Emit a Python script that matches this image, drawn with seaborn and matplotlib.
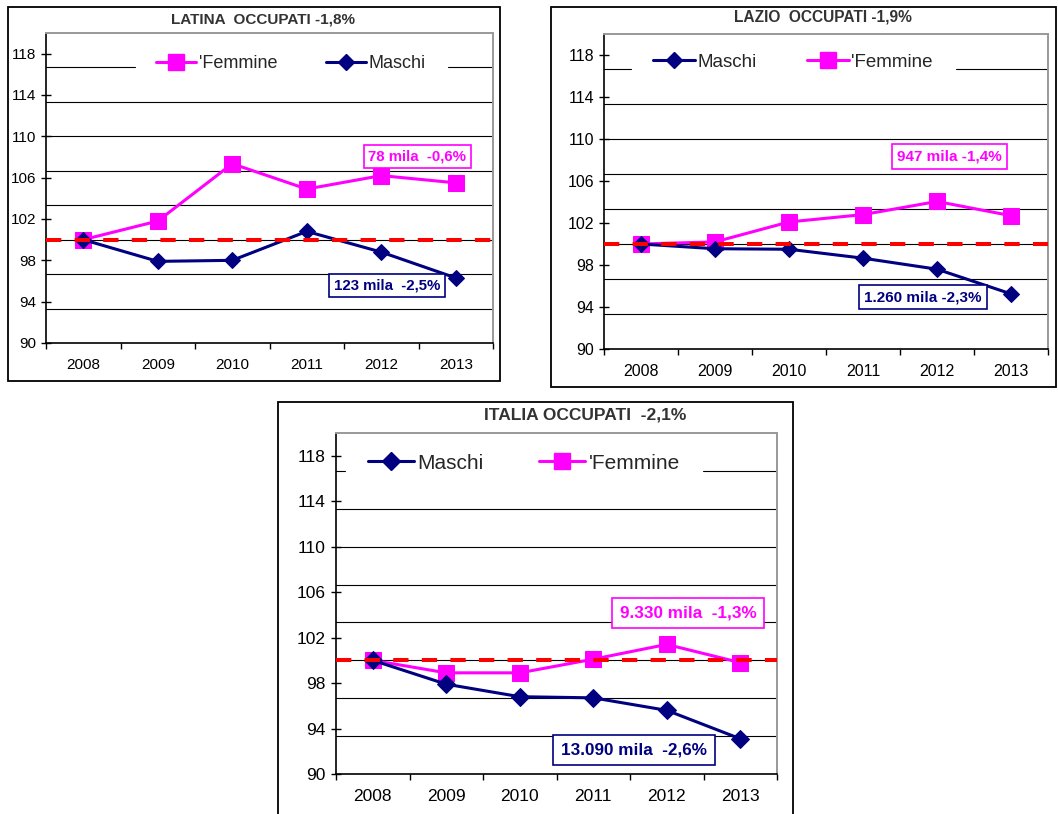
import numpy as np
import matplotlib
matplotlib.use("Agg")
import matplotlib.pyplot as plt
from matplotlib.patches import Rectangle
from matplotlib.lines import Line2D
import seaborn as sns

# Index numbers of employed people (2008 = 100)
years = ["2008", "2009", "2010", "2011", "2012", "2013"]

latina_maschi = [100.0, 97.9, 98.0, 100.8, 98.8, 96.3]
latina_femmine = [100.0, 101.8, 107.35, 104.9, 106.2, 105.5]

lazio_maschi = [100.0, 99.55, 99.5, 98.65, 97.6, 95.25]
lazio_femmine = [100.0, 100.2, 102.1, 102.8, 104.05, 102.7]

italia_maschi = [100.0, 97.9, 96.8, 96.7, 95.6, 93.1]
italia_femmine = [100.0, 98.9, 98.9, 100.1, 101.4, 99.8]

titles = ["LATINA  OCCUPATI -1,8%", "LAZIO  OCCUPATI -1,9%", "ITALIA OCCUPATI  -2,1%"]
label_femmine = ["78 mila  -0,6%", "947 mila -1,4%", "9.330 mila  -1,3%"]
label_maschi = ["123 mila  -2,5%", "1.260 mila -2,3%", "13.090 mila  -2,6%"]
baseline = 100

sns.set_theme(style="white")
plt.rcParams["font.family"] = ["Liberation Sans", "DejaVu Sans"]

NAVY = "#000080"
MAGENTA = "#FF00FF"

W, H = 1058, 814
fig = plt.figure(figsize=(W / 100, H / 100), dpi=100)
fig.patch.set_facecolor("white")


def px_rect(left, top, right, bottom):
    return [left / W, 1 - bottom / H, (right - left) / W, (bottom - top) / H]


panels = [
    dict(ax=px_rect(46, 33, 493, 343), frame=(8, 7, 500, 381), title=(263, 19),
         m=latina_maschi, f=latina_femmine, order="fm", leg=(0.548, 0.90),
         gap=(0.199, 0.899), fbox=(0.830, 0.603), mbox=(0.763, 0.185),
         title_fs=11, tick_fs=11, leg_fs=13, box_fs=10.8, box_pad=0.3,
         ms_sq=11, ms_d=8),
    dict(ax=px_rect(604, 34, 1048, 349), frame=(551, 7, 1056, 387), title=(823, 17),
         m=lazio_maschi, f=lazio_femmine, order="mf", leg=(0.426, 0.911),
         gap=(0.061, 0.793), fbox=(0.778, 0.611), mbox=(0.719, 0.165),
         title_fs=11.2, tick_fs=11.5, leg_fs=13.5, box_fs=11, box_pad=0.35,
         ms_sq=11, ms_d=8.5),
    dict(ax=px_rect(336, 433, 777, 774), frame=(278, 402, 793, 830), title=(585, 415),
         m=italia_maschi, f=italia_femmine, order="mf", leg=(0.426, 0.912),
         gap=(0.020, 0.832), fbox=(0.798, 0.472), mbox=(0.676, 0.070),
         title_fs=12.5, tick_fs=12.5, leg_fs=15, box_fs=12.3, box_pad=0.45,
         ms_sq=11.5, ms_d=9),
]

xpos = np.arange(len(years))
grid_levels = np.linspace(90, 120, 10)[1:-1]

for i, p in enumerate(panels):
    # outer frame of the panel
    l, t, r, b = p["frame"]
    fig.patches.append(Rectangle((l / W, 1 - b / H), (r - l) / W, (b - t) / H,
                                 transform=fig.transFigure, fill=False,
                                 edgecolor="black", linewidth=1.3, zorder=0))
    fig.text(p["title"][0] / W, 1 - p["title"][1] / H, titles[i],
             ha="center", va="center", fontsize=p["title_fs"], fontweight="bold",
             color="#333333")

    ax = fig.add_axes(p["ax"])
    ax.set_facecolor("white")

    # horizontal grid, the top one interrupted by the legend
    for k, g in enumerate(grid_levels):
        if k == len(grid_levels) - 1:
            ax.axhline(g, xmin=0, xmax=p["gap"][0], color="black", lw=0.8, zorder=1)
            ax.axhline(g, xmin=p["gap"][1], xmax=1, color="black", lw=0.8, zorder=1)
        else:
            ax.axhline(g, color="black", lw=0.8, zorder=1)

    sns.lineplot(x=xpos, y=p["f"], ax=ax, color=MAGENTA, marker="s",
                 markersize=p["ms_sq"], markeredgecolor=MAGENTA, linewidth=2.2, zorder=3)
    sns.lineplot(x=xpos, y=p["m"], ax=ax, color=NAVY, marker="D",
                 markersize=p["ms_d"], markeredgecolor=NAVY, linewidth=2.2, zorder=3)

    ax.axhline(baseline, color="#FF0000", lw=2.9, linestyle=(0, (3.8, 3.3)), zorder=4)

    ax.set_xlim(-0.5, len(years) - 0.5)
    ax.set_ylim(90, 120)
    ax.set_yticks(np.arange(90, 119, 4))
    ax.set_xticks(np.arange(-0.5, len(years), 1.0))
    ax.set_xticklabels([])
    ax.set_xticks(xpos, minor=True)
    ax.set_xticklabels(years, minor=True)
    ax.tick_params(axis="x", which="major", direction="out", length=4, width=1,
                   color="black", bottom=True)
    ax.tick_params(axis="x", which="minor", length=0, pad=11, labelsize=p["tick_fs"],
                   labelcolor="black", bottom=True)
    ax.tick_params(axis="y", direction="inout", length=6.5, width=1, color="black",
                   left=True, pad=4, labelsize=p["tick_fs"], labelcolor="black")
    ax.set_xlabel("")
    ax.set_ylabel("")

    for side in ("top", "right"):
        ax.spines[side].set_color("#999999")
        ax.spines[side].set_linewidth(1.4)
    for side in ("left", "bottom"):
        ax.spines[side].set_color("black")
        ax.spines[side].set_linewidth(1.2)

    h_f = Line2D([], [], color=MAGENTA, marker="s", markersize=p["ms_sq"], lw=2.2)
    h_m = Line2D([], [], color=NAVY, marker="D", markersize=p["ms_d"], lw=2.2)
    if p["order"] == "fm":
        handles, labels = [h_f, h_m], ["'Femmine", "Maschi"]
    else:
        handles, labels = [h_m, h_f], ["Maschi", "'Femmine"]
    ax.legend(handles, labels, loc="center", bbox_to_anchor=p["leg"], ncol=2,
              frameon=False, fontsize=p["leg_fs"], handlelength=2.2,
              handletextpad=0.15, columnspacing=2.7)

    ax.text(p["fbox"][0], p["fbox"][1], label_femmine[i], transform=ax.transAxes,
            ha="center", va="center", fontsize=p["box_fs"], fontweight="bold",
            color=MAGENTA, zorder=6,
            bbox=dict(boxstyle=f"square,pad={p['box_pad']}", facecolor="white",
                      edgecolor=MAGENTA, linewidth=1.2))
    ax.text(p["mbox"][0], p["mbox"][1], label_maschi[i], transform=ax.transAxes,
            ha="center", va="center", fontsize=p["box_fs"], fontweight="bold",
            color=NAVY, zorder=6,
            bbox=dict(boxstyle=f"square,pad={p['box_pad']}", facecolor="white",
                      edgecolor=NAVY, linewidth=1.2))

fig.savefig("out.png", dpi=100, facecolor="white")
